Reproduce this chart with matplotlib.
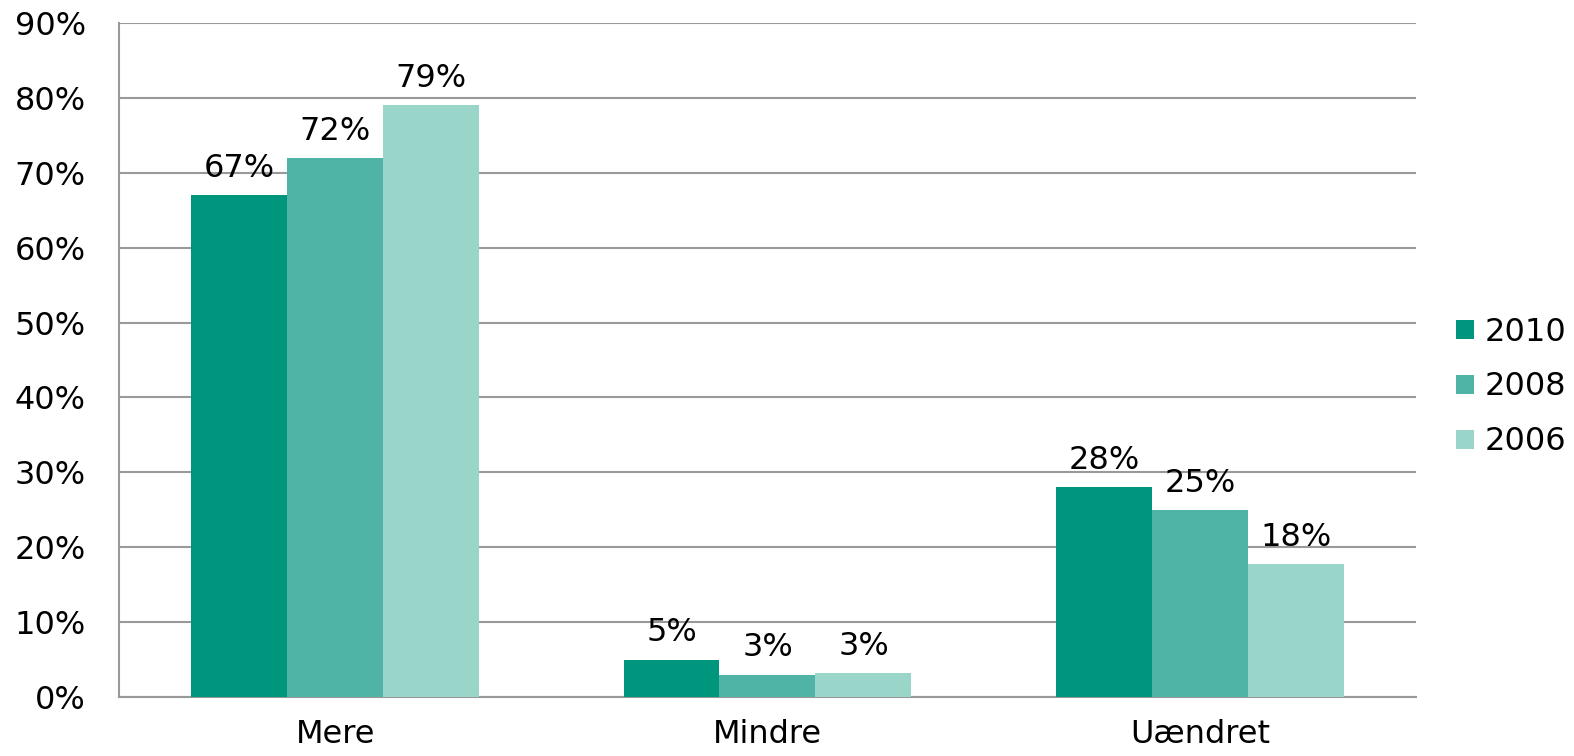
import numpy as np
import matplotlib.pyplot as plt

# Data
categories = ['Mere', 'Mindre', 'Uændret']
years = ['2010', '2008', '2006']
values_2010 = [67, 5, 28]
values_2008 = [72, 3, 25]
values_2006 = [79, 3.2, 17.7]
colors = ['#00957D', '#4FB3A6', '#9AD5CA']

plt.rcParams['font.family'] = ['DejaVu Sans']
FS = 23

fig = plt.figure(figsize=(15.74, 7.56), dpi=100)
ax = fig.add_axes([0.0756, 0.078, 0.824, 0.8916])

x = np.arange(len(categories))
width = 0.222
series = [values_2010, values_2008, values_2006]
for i, (vals, yr, c) in enumerate(zip(series, years, colors)):
    bars = ax.bar(x + (i - 1) * width, vals, width, color=c, label=yr, zorder=3)
    for b, v in zip(bars, vals):
        ax.annotate(f'{v:.0f}%', (b.get_x() + b.get_width() / 2, v),
                    xytext=(0, 8), textcoords='offset points',
                    ha='center', va='bottom', fontsize=FS)

ax.set_xlim(-0.5, 2.5)
ax.set_ylim(0, 90)
ax.set_yticks(np.arange(0, 91, 10))
ax.set_yticklabels([f'{t}%' for t in range(0, 91, 10)], fontsize=FS)
ax.set_xticks(x)
ax.set_xticklabels(categories, fontsize=FS)
ax.tick_params(axis='y', length=0, pad=24)
ax.tick_params(axis='x', length=0, pad=16)
ax.yaxis.grid(True, color='#999999', linewidth=1.5, zorder=0)
for s in ['top', 'right']:
    ax.spines[s].set_visible(False)
for s in ['left', 'bottom']:
    ax.spines[s].set_color('#999999')
    ax.spines[s].set_linewidth(1.5)

ax.legend(loc='center left', bbox_to_anchor=(1.031, 0.46), frameon=False,
          fontsize=FS, handlelength=0.55, handleheight=0.55,
          handletextpad=0.35, labelspacing=0.75,
          borderaxespad=0, borderpad=0)

fig.savefig('out.png', dpi=100)
